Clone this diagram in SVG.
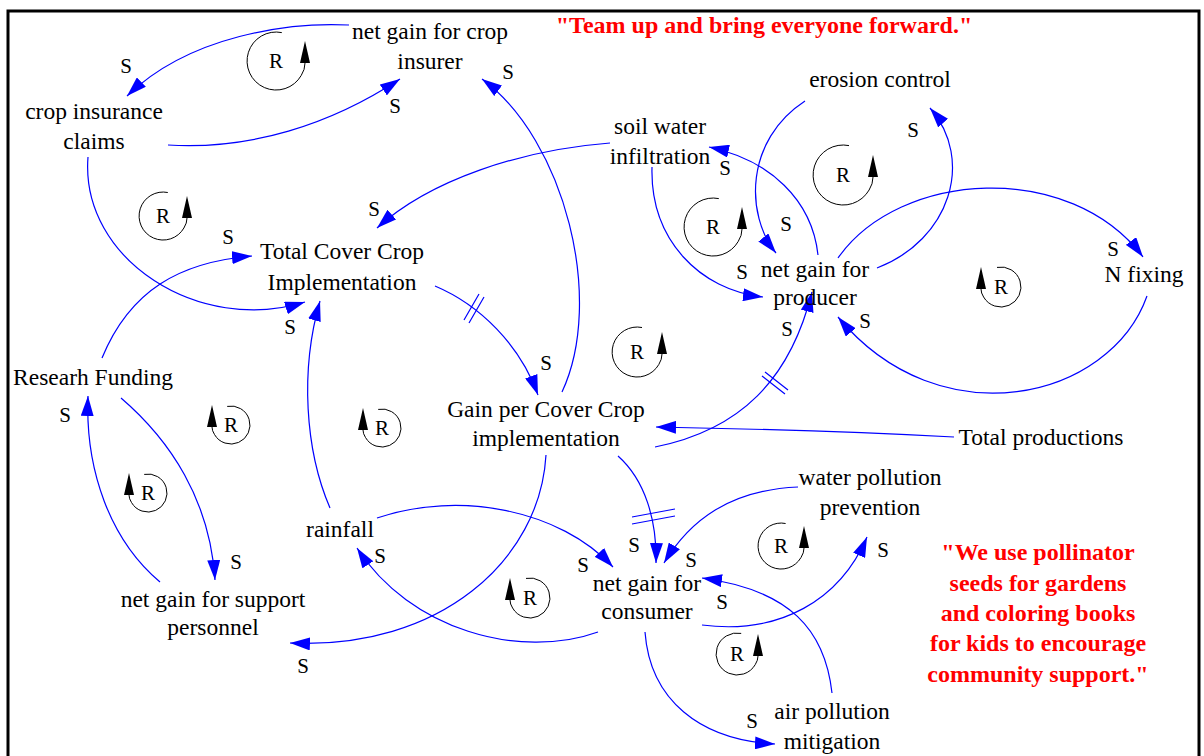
<svg xmlns="http://www.w3.org/2000/svg" width="1204" height="756" viewBox="0 0 1204 756" font-family="'Liberation Serif', 'Times New Roman', 'DejaVu Serif', serif">
<defs>
<style>
text{font-family:'Liberation Serif','Times New Roman','DejaVu Serif',serif}
.n{font-size:23.5px;fill:#000;text-anchor:middle}
.s{font-size:21px;fill:#000;text-anchor:middle}
.q{font-size:24px;font-weight:bold;fill:#ff0000;text-anchor:middle}
.c{fill:none;stroke:#0000ff;stroke-width:1.2;marker-end:url(#ah)}
.d{fill:none;stroke:#0000ff;stroke-width:1.2}
.la{fill:none;stroke:#000;stroke-width:1}
.lt{fill:#000;stroke:none}
</style>
<marker id="ah" markerWidth="20" markerHeight="13" refX="20" refY="6.5" orient="auto" markerUnits="userSpaceOnUse" viewBox="0 0 20 13"><path d="M0,0 L20,6.5 L0,13 z" fill="#0000ff"/></marker>
</defs>
<rect x="0" y="0" width="1204" height="756" fill="#fff"/>
<rect x="8" y="11" width="1191" height="760" fill="none" stroke="#000" stroke-width="3"/>

<g id="connectors">
<path class="c" d="M349,25 C290,22 190,35 127,96"/>
<path class="c" d="M168,145 C250,150 330,125 400,79"/>
<path class="c" d="M88,157 C80,260 200,335 305,302"/>
<path class="c" d="M102,358 C130,290 180,262 252,256"/>
<path class="c" d="M610,143 C520,150 430,180 377,228"/>
<path class="c" d="M435,286 C480,305 520,345 538,395"/>
<path class="c" d="M562,392 C605,300 565,140 482,79"/>
<path class="c" d="M546,455 C540,560 440,650 290,643"/>
<path class="c" d="M618,456 C645,480 657,520 656,563"/>
<path class="c" d="M954,437 Q820,430 656,427"/>
<path class="c" d="M655,447 C740,430 790,380 812,292"/>
<path class="c" d="M652,167 C650,240 700,290 763,297"/>
<path class="c" d="M818,255 C812,200 770,160 709,147"/>
<path class="c" d="M805,101 C745,140 745,215 776,253"/>
<path class="c" d="M877,268 C950,240 975,160 930,108"/>
<path class="c" d="M838,258 C900,170 1070,160 1143,257"/>
<path class="c" d="M1147,296 C1110,400 940,440 838,317"/>
<path class="c" d="M330,508 C305,450 300,370 320,301"/>
<path class="c" d="M377,518 C460,490 560,510 613,567"/>
<path class="c" d="M598,632 C520,660 410,630 357,548"/>
<path class="c" d="M798,487 C730,490 690,520 664,563"/>
<path class="c" d="M702,625 C780,635 840,600 867,537"/>
<path class="c" d="M832,693 C825,630 790,590 702,578"/>
<path class="c" d="M645,632 C650,700 700,740 775,744"/>
<path class="c" d="M121,398 C170,440 210,500 215,580"/>
<path class="c" d="M160,582 C110,540 85,470 88,396"/>
<path class="d" d="M479,294 L464,320 M484,297 L469,323"/>
<path class="d" d="M632,517 L675,509 M632,524 L675,516"/>
<path class="d" d="M762,376 L785,394 M765,372 L788,390"/>
<g class="s">
<text x="126" y="73">S</text>
<text x="395" y="113">S</text>
<text x="508" y="79">S</text>
<text x="228" y="244">S</text>
<text x="374" y="216">S</text>
<text x="290" y="334">S</text>
<text x="546" y="370">S</text>
<text x="725" y="175">S</text>
<text x="913" y="137">S</text>
<text x="786" y="231">S</text>
<text x="742" y="279">S</text>
<text x="787" y="336">S</text>
<text x="865" y="328">S</text>
<text x="1113" y="256">S</text>
<text x="65" y="422">S</text>
<text x="236" y="569">S</text>
<text x="303" y="673">S</text>
<text x="380" y="563">S</text>
<text x="634" y="552">S</text>
<text x="583" y="572">S</text>
<text x="691" y="567">S</text>
<text x="722" y="609">S</text>
<text x="883" y="557">S</text>
<text x="752" y="728">S</text>
</g>
</g>

<g id="loops">
<g><path class="la" d="M281.8,32.6 A29,29 0 1 0 301.2,75.5 Q305,69.7 305,63"/><path class="lt" d="M300,63 L305,41 L310,63 z"/><text class="s" x="276" y="68">R</text></g>
<g><path class="la" d="M167.8,192.5 A24,24 0 1 0 183.9,228 Q187,223.2 187,218"/><path class="lt" d="M182,218 L187,196 L192,218 z"/><text class="s" x="163" y="223">R</text></g>
<g><path class="la" d="M849,145.6 A30,30 0 1 0 869.1,190 Q873,184 873,177"/><path class="lt" d="M868,177 L873,155 L878,177 z"/><text class="s" x="843" y="182">R</text></g>
<g><path class="la" d="M718.8,198.6 A29,29 0 1 0 738.2,241.5 Q742,235.7 742,229"/><path class="lt" d="M737,229 L742,207 L747,229 z"/><text class="s" x="713" y="234">R</text></g>
<g><path class="la" d="M642,327.5 A25,25 0 1 0 658.8,364.5 Q662,359.5 662,354"/><path class="lt" d="M657,354 L662,332 L667,354 z"/><text class="s" x="637" y="359">R</text></g>
<g><path class="la" d="M785.6,523.5 A23,23 0 1 0 801,557.5 Q804,552.9 804,548"/><path class="lt" d="M799,548 L804,526 L809,548 z"/><text class="s" x="781" y="553">R</text></g>
<g><path class="la" d="M741.2,633.4 A21,21 0 1 0 755.3,664.5 Q758,660.3 758,656"/><path class="lt" d="M753,656 L758,634 L763,656 z"/><text class="s" x="737" y="661">R</text></g>
<g><path class="la" d="M997,267.4 A20,20 0 1 1 983.6,297 Q981,293 981,289"/><path class="lt" d="M976,289 L981,267 L986,289 z"/><text class="s" x="1001" y="294">R</text></g>
<g><path class="la" d="M227.2,406.4 A19,19 0 1 1 214.5,434.5 Q212,430.7 212,427"/><path class="lt" d="M207,427 L212,405 L217,427 z"/><text class="s" x="231" y="432">R</text></g>
<g><path class="la" d="M378.2,409.4 A19,19 0 1 1 365.5,437.5 Q363,433.7 363,430"/><path class="lt" d="M358,430 L363,408 L368,430 z"/><text class="s" x="382" y="435">R</text></g>
<g><path class="la" d="M144.2,474.4 A19,19 0 1 1 131.5,502.5 Q129,498.7 129,495"/><path class="lt" d="M124,495 L129,473 L134,495 z"/><text class="s" x="148" y="500">R</text></g>
<g><path class="la" d="M526,578.4 A20,20 0 1 1 512.6,608 Q510,604 510,600"/><path class="lt" d="M505,600 L510,578 L515,600 z"/><text class="s" x="530" y="605">R</text></g>
</g>

<g id="node-crop-insurer"><text class="n" x="430" y="39">net gain for crop</text><text class="n" x="430" y="69">insurer</text></g>
<g id="node-crop-insurance-claims"><text class="n" x="94" y="119">crop insurance</text><text class="n" x="94" y="149">claims</text></g>
<g id="node-total-cover-crop"><text class="n" x="342" y="259">Total Cover Crop</text><text class="n" x="342" y="290">Implementation</text></g>
<g id="node-research-funding"><text class="n" x="93" y="385">Researh Funding</text></g>
<g id="node-gain-per-cover-crop"><text class="n" x="546" y="417">Gain per Cover Crop</text><text class="n" x="546" y="446">implementation</text></g>
<g id="node-total-productions"><text class="n" x="1041" y="445">Total productions</text></g>
<g id="node-soil-water"><text class="n" x="660" y="134">soil water</text><text class="n" x="660" y="164">infiltration</text></g>
<g id="node-erosion-control"><text class="n" x="880" y="87">erosion control</text></g>
<g id="node-producer"><text class="n" x="815" y="277">net gain for</text><text class="n" x="815" y="305">producer</text></g>
<g id="node-n-fixing"><text class="n" x="1144" y="282">N fixing</text></g>
<g id="node-rainfall"><text class="n" x="340" y="537">rainfall</text></g>
<g id="node-support-personnel"><text class="n" x="213" y="607">net gain for support</text><text class="n" x="213" y="635">personnel</text></g>
<g id="node-consumer"><text class="n" x="647" y="591">net gain for</text><text class="n" x="647" y="619">consumer</text></g>
<g id="node-water-pollution"><text class="n" x="870" y="485">water pollution</text><text class="n" x="870" y="515">prevention</text></g>
<g id="node-air-pollution"><text class="n" x="832" y="719">air pollution</text><text class="n" x="832" y="749">mitigation</text></g>

<g id="quotes">
<text class="q" x="764" y="33">"Team up and bring everyone forward."</text>
<text class="q" x="1038" y="560">"We use pollinator</text>
<text class="q" x="1038" y="591">seeds for gardens</text>
<text class="q" x="1038" y="621">and coloring books</text>
<text class="q" x="1038" y="651">for kids to encourage</text>
<text class="q" x="1038" y="682">community support."</text>
</g>
</svg>
